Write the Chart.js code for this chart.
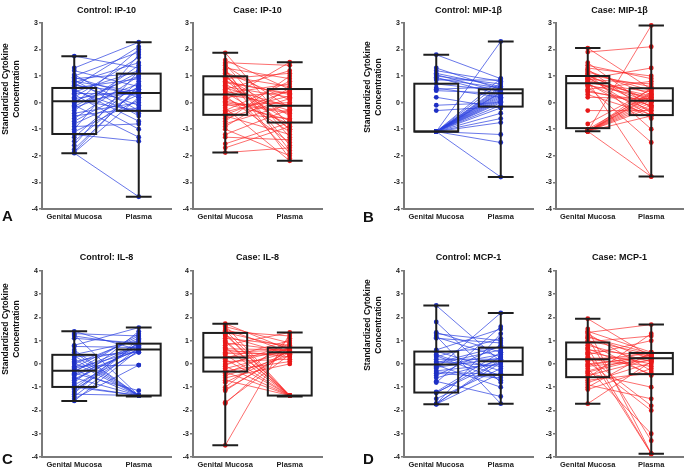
<!DOCTYPE html>
<html>
<head>
<meta charset="utf-8">
<script src="https://cdn.jsdelivr.net/npm/chart.js@4.4.0/dist/chart.umd.min.js"></script>
<style>
  body { margin: 0; background: #fff; }
  #fig { position: relative; width: 687px; height: 467px; overflow: hidden; font-family: "Liberation Sans", Arial, sans-serif; }
  #fig canvas { position: absolute; }
  .ytitle { position: absolute; width: 110px; height: 22px; font-size: 8.5px; font-weight: bold; line-height: 11px;
            text-align: center; transform: rotate(-90deg); color: #111; white-space: nowrap; }
  .letter { position: absolute; font-size: 15px; font-weight: bold; line-height: 15px; color: #111; }
</style>
</head>
<body>
<div id="fig">
  <canvas id="c0" width="175" height="228" style="left:0px;top:0px"></canvas>
  <canvas id="c1" width="151" height="228" style="left:175px;top:0px"></canvas>
  <canvas id="c2" width="175" height="228" style="left:362px;top:0px"></canvas>
  <canvas id="c3" width="150" height="228" style="left:537px;top:0px"></canvas>
  <canvas id="c4" width="175" height="220" style="left:0px;top:247px"></canvas>
  <canvas id="c5" width="151" height="220" style="left:175px;top:247px"></canvas>
  <canvas id="c6" width="175" height="220" style="left:362px;top:247px"></canvas>
  <canvas id="c7" width="150" height="220" style="left:537px;top:247px"></canvas>

  <div class="ytitle" style="left:-44px;top:78px">Standardized Cytokine<br>Concentration</div>
  <div class="ytitle" style="left:318px;top:76px">Standardized Cytokine<br>Concentration</div>
  <div class="ytitle" style="left:-44px;top:318px">Standardized Cytokine<br>Concentration</div>
  <div class="ytitle" style="left:318px;top:314px">Standardized Cytokine<br>Concentration</div>

  <div class="letter" style="left:2px;top:208px">A</div>
  <div class="letter" style="left:363px;top:209px">B</div>
  <div class="letter" style="left:2px;top:451px">C</div>
  <div class="letter" style="left:363px;top:451px">D</div>
</div>

<script>
// ---- data ----
const categories = ['Genital Mucosa', 'Plasma'];
const yTicksTop = [-4, 3];     // top row axis range
const yTicksBottom = [-4, 4];  // bottom row axis range

// box summaries per group: [min, q1, median, q3, max]
const ip10ControlBox = [[-1.90, -1.18, 0.05, 0.55, 1.74], [-3.54, -0.31, 0.36, 1.09, 2.27]];
const ip10CaseBox    = [[-1.88, -0.46, 0.30, 0.99, 1.87], [-2.19, -0.75, -0.12, 0.51, 1.52]];
const mipControlBox  = [[-1.09, -1.09, -1.09, 0.71, 1.80], [-2.80, -0.15, 0.35, 0.50, 2.30]];
const mipCaseBox     = [[-1.08, -0.96, 0.73, 1.00, 2.05], [-2.78, -0.47, 0.07, 0.54, 2.90]];
const il8ControlBox  = [[-1.59, -0.99, -0.29, 0.39, 1.40], [-1.40, -1.36, 0.62, 0.87, 1.56]];
const il8CaseBox     = [[-3.50, -0.33, 0.27, 1.33, 1.73], [-1.40, -1.36, 0.50, 0.70, 1.35]];
const mcpControlBox  = [[-1.73, -1.23, -0.03, 0.53, 2.51], [-1.71, -0.47, 0.11, 0.70, 2.19]];
const mcpCaseBox     = [[-1.71, -0.57, 0.20, 0.92, 1.94], [-3.86, -0.44, 0.24, 0.47, 1.69]];

// paired subjects (genital mucosa value, plasma value)
const ip10ControlGM = [1.75, 1.3, 1.2, 1.05, 1.0, 0.95, 0.9, 0.85, 0.8, 0.75, 0.7, 0.6, 0.55, 0.5, 0.4, 0.35, 0.3, 0.2, 0.15, 0.1,
  0.05, 0.0, -0.05, -0.1, -0.2, -0.3, -0.4, -0.5, -0.6, -0.7, -0.8, -0.9, -1.0, -1.1, -1.2, -1.3, -1.45, -1.6, -1.75, -1.9,
  -1.88, 0.45, -0.15, 0.65, -1.85];
const ip10ControlPlasma = [1.3, 2.27, 0.6, -0.3, 1.9, 0.2, 1.1, -0.5, 0.4, 1.5, -0.1, 2.1, 0.9, -0.7, 1.2, 0.3, -1.0, 1.7, 0.5, -0.3,
  1.0, 0.4, 2.0, -1.3, 0.7, 1.4, 0.0, -0.2, 1.0, 0.6, 0.3, -0.8, 1.8, 0.1, -1.45, 0.8, 0.5, 1.2, 0.6, -3.54,
  0.2, -0.4, 1.15, 0.35, 0.65];

const ip10CaseGM = [1.87, 1.6, 1.5, 1.45, 1.4, 1.3, 1.2, 1.15, 1.1, 1.0, 0.95, 0.9, 0.85, 0.8, 0.7, 0.65, 0.6, 0.5, 0.45, 0.4,
  0.35, 0.3, 0.25, 0.2, 0.15, 0.1, 0.0, -0.1, -0.2, -0.3, -0.4, -0.45, -0.5, -0.6, -0.7, -0.8, -0.9, -1.0, -1.2, -1.3,
  -1.55, -1.7, -1.88, 0.55, 0.75, -0.05, 1.25, -0.35, 0.05, 1.0];
const ip10CasePlasma = [-0.9, 0.5, 1.4, -1.3, -0.2, 0.9, -1.6, 0.1, -2.1, 0.6, -0.5, 1.1, -1.0, 0.3, -0.7, -1.9, 0.2, 1.2, -0.3, -1.1,
  0.7, -0.1, -1.5, 0.4, -0.8, 1.52, -0.4, 0.0, -2.19, 0.8, -0.6, 0.45, -1.2, 0.15, 1.0, -0.05, 0.55, -2.0, -0.25, -1.4,
  -0.75, -0.9, -1.7, -0.15, 0.35, -0.65, -1.8, 0.25, -0.35, -1.0];

const mipControlGM = [1.8, 1.3, 1.2, 1.1, 1.05, 1.0, 0.95, 0.9, 0.85, 0.7, 0.55, 0.5, 0.45, 0.2, -0.1, -0.3,
  -1.09, -1.09, -1.09, -1.09, -1.09, -1.09, -1.09, -1.09, -1.09, -1.09, -1.09, -1.09, -1.09, -1.09, -1.09, -1.09,
  -1.09, -1.09, -1.09, -1.09, -1.09, -1.09, -1.09, -1.09, -1.09];
const mipControlPlasma = [0.9, 0.5, 0.8, 0.6, 0.4, 0.7, 0.3, 0.55, 0.85, 0.45, 0.2, 0.6, 0.35, -0.2, 0.0, -0.15,
  2.3, 0.9, 0.75, 0.6, 0.5, 0.45, 0.4, 0.35, 0.3, 0.25, 0.2, 0.15, 0.1, 0.05, 0.0, -0.1,
  -0.2, -0.4, -0.6, -0.75, -1.2, -1.5, -2.8, 0.55, 0.38];

const mipCaseGM = [2.05, 1.9, 1.5, 1.4, 1.3, 1.25, 1.2, 1.1, 1.05, 1.0, 0.95, 0.9, 0.85, 0.8, 0.75, 0.7, 0.65, 0.6, 0.5, 0.45,
  0.4, 0.3, 0.2, -0.3, -0.8, -1.0, 1.15, 0.92, 0.88, 0.78, 0.72, 1.02,
  -1.08, -1.08, -1.08, -1.08, -1.08, -1.08, -1.08, -1.08, -1.08, -1.08, -1.08, -1.08];
const mipCasePlasma = [0.5, 2.1, -0.2, 0.9, 1.0, -0.4, 0.3, -1.0, 0.6, 0.1, -0.5, 1.3, 0.0, -2.78, 0.4, -0.3, 0.2, -1.5, 0.8, -0.1,
  0.05, -0.45, 0.15, -0.3, 0.5, 0.35, 0.45, -0.15, 0.7, 0.25, -0.6, 0.05,
  2.9, 0.55, 0.4, 0.3, 0.2, 0.1, 0.0, -0.1, -0.2, 0.25, -0.5, -2.78];

const il8ControlGM = [1.40, 1.3, 1.25, 1.2, 1.1, 0.8, 0.75, 0.5, 0.4, 0.3, 0.2, 0.1, 0.0, -0.1, -0.2, -0.25, -0.3, -0.35, -0.4, -0.5,
  -0.6, -0.7, -0.8, -0.9, -1.0, -1.05, -1.1, -1.2, -1.3, -1.4, -1.5, -1.59, 0.35, -0.45, -0.15, 0.05, -0.65, -0.95, -1.25, 0.6];
const il8ControlPlasma = [0.6, 1.2, -1.36, 0.8, 0.9, 1.56, 0.7, -1.36, 1.0, 0.5, -1.36, 0.65, 1.1, -0.05, 0.55, -1.36, 0.85, 1.3, -1.15, 0.6,
  -1.36, 0.75, 1.4, 0.5, -1.36, 0.9, 0.55, 1.05, -1.36, 0.7, -0.05, 0.6, -1.36, 0.8, 1.2, -1.36, 0.65, -1.36, 0.95, -1.36];

const il8CaseGM = [1.73, 1.65, 1.6, 1.5, 1.45, 1.4, 1.35, 1.3, 1.2, 1.1, 1.0, 0.9, 0.8, 0.7, 0.6, 0.5, 0.4, 0.3, 0.25, 0.2,
  0.1, 0.0, -0.1, -0.2, -0.3, -0.35, -0.4, -0.5, -0.6, -0.7, -0.8, -1.0, -1.1, -1.15, -1.65, -1.7, -3.5, 0.95, 0.45, -0.05,
  1.25, 0.65];
const il8CasePlasma = [0.6, -1.36, 0.9, 0.5, -1.36, 1.2, 0.7, -1.36, 0.4, 0.8, -1.36, 0.55, 1.35, -1.36, 0.3, 0.6, -1.36, 0.45, 1.0, -1.36,
  0.2, 0.65, -1.36, 0.5, 0.1, -1.36, 0.7, 0.35, 0.0, -1.36, 0.55, 1.1, 0.5, 0.6, 0.4, 0.75, 1.3, -1.36, 0.45, 0.85,
  -1.36, 0.6];

const mcpControlGM = [2.51, 1.8, 1.35, 1.3, 1.2, 1.15, 1.1, 0.6, 0.55, 0.5, 0.4, 0.3, 0.2, 0.1, 0.0, -0.05, -0.1, -0.2, -0.3, -0.4,
  -0.5, -0.6, -0.75, -0.8, -1.2, -1.23, -1.25, -1.5, -1.7, -1.73, -1.73, -1.73, 0.35, -0.15, 0.05, -0.35];
const mcpControlPlasma = [0.1, -0.8, 0.5, 1.0, -1.71, 0.3, 0.9, 1.5, -0.3, 0.7, -0.5, 1.1, 0.2, -0.1, 0.6, -1.0, 0.4, 2.19, 0.0, -0.6,
  0.8, 0.15, -1.4, 1.6, 0.5, 0.1, 0.3, -0.2, 0.05, 0.2, -0.4, 1.3, -0.7, 0.25, 0.75, -0.45];

const mcpCaseGM = [1.94, 1.5, 1.4, 1.35, 1.3, 1.2, 1.1, 1.0, 0.95, 0.9, 0.8, 0.7, 0.6, 0.5, 0.4, 0.3, 0.25, 0.2, 0.15, 0.1,
  0.0, -0.1, -0.2, -0.3, -0.4, -0.5, -0.6, -0.7, -0.8, -0.9, -1.0, -1.1, -1.71, 0.45, -0.05, 1.15, 0.65, -0.35];
const mcpCasePlasma = [0.3, -3.86, 0.5, 1.69, -0.3, 0.2, -3.3, 0.4, 1.2, -0.5, 0.1, -3.86, 0.35, 0.0, 1.0, -1.8, 0.25, -0.1, 0.45, -2.0,
  0.3, 0.15, -3.0, 0.4, -1.0, 0.2, 1.3, -0.4, 0.05, -1.5, 0.5, -0.2, 0.1, -3.86, 0.35, 0.45, -0.45, 0.3];

// ---- look ----
const BLUE = { line: 'rgba(45,65,225,0.9)', point: '#1d2fc4' };
const RED  = { line: 'rgba(250,40,40,0.85)', point: '#e81818' };

const panels = [
  { canvas: 'c0', title: 'Control: IP-10',  gm: ip10ControlGM, pl: ip10ControlPlasma, box: ip10ControlBox, col: BLUE, range: yTicksTop, yW: 42, padR: 3, titleB: 7, xH: 19 },
  { canvas: 'c1', title: 'Case: IP-10',     gm: ip10CaseGM,    pl: ip10CasePlasma,    box: ip10CaseBox,    col: RED,  range: yTicksTop, yW: 18, padR: 3, titleB: 7, xH: 19 },
  { canvas: 'c2', title: 'Control: MIP-1β', gm: mipControlGM,  pl: mipControlPlasma,  box: mipControlBox,  col: BLUE, range: yTicksTop, yW: 42, padR: 3, titleB: 7, xH: 19 },
  { canvas: 'c3', title: 'Case: MIP-1β',    gm: mipCaseGM,     pl: mipCasePlasma,     box: mipCaseBox,     col: RED,  range: yTicksTop, yW: 19, padR: 1, titleB: 7, xH: 19 },
  { canvas: 'c4', title: 'Control: IL-8',   gm: il8ControlGM,  pl: il8ControlPlasma,  box: il8ControlBox,  col: BLUE, range: yTicksBottom, yW: 42, padR: 3, titleB: 8, xH: 10 },
  { canvas: 'c5', title: 'Case: IL-8',      gm: il8CaseGM,     pl: il8CasePlasma,     box: il8CaseBox,     col: RED,  range: yTicksBottom, yW: 18, padR: 3, titleB: 8, xH: 10 },
  { canvas: 'c6', title: 'Control: MCP-1',  gm: mcpControlGM,  pl: mcpControlPlasma,  box: mcpControlBox,  col: BLUE, range: yTicksBottom, yW: 42, padR: 3, titleB: 8, xH: 10 },
  { canvas: 'c7', title: 'Case: MCP-1',     gm: mcpCaseGM,     pl: mcpCasePlasma,     box: mcpCaseBox,     col: RED,  range: yTicksBottom, yW: 19, padR: 1, titleB: 8, xH: 10 }
];

// box + whiskers, drawn from the chart's own scales
const boxPlugin = {
  id: 'boxes',
  afterDatasetsDraw(chart, args, opts) {
    const { ctx, scales: { x, y } } = chart;
    const half = (x.width / 2) * 0.34;
    const cap = (x.width / 2) * 0.2;
    ctx.save();
    ctx.strokeStyle = '#1e1e1e';
    ctx.lineWidth = 2;
    opts.stats.forEach((s, i) => {
      const cx = x.getPixelForValue(i);
      const [mn, q1, md, q3, mx] = s.map(v => y.getPixelForValue(v));
      ctx.beginPath();
      // whiskers
      ctx.moveTo(cx, q3); ctx.lineTo(cx, mx);
      ctx.moveTo(cx, q1); ctx.lineTo(cx, mn);
      ctx.moveTo(cx - cap, mx); ctx.lineTo(cx + cap, mx);
      ctx.moveTo(cx - cap, mn); ctx.lineTo(cx + cap, mn);
      // median
      ctx.moveTo(cx - half, md); ctx.lineTo(cx + half, md);
      ctx.stroke();
      ctx.strokeRect(cx - half, q3, half * 2, q1 - q3);
    });
    ctx.restore();
  }
};

panels.forEach(p => {
  const datasets = p.gm.map((v, i) => ({
    data: [v, p.pl[i]],
    borderColor: p.col.line,
    borderWidth: 0.8,
    pointRadius: 2.4,
    pointBackgroundColor: p.col.point,
    pointBorderWidth: 0,
    fill: false,
    tension: 0
  }));

  new Chart(document.getElementById(p.canvas), {
    type: 'line',
    data: { labels: categories, datasets },
    plugins: [boxPlugin],
    options: {
      responsive: false,
      animation: false,
      events: [],
      layout: { padding: { left: 0, right: p.padR, top: 0, bottom: 0 } },
      plugins: {
        legend: { display: false },
        tooltip: { enabled: false },
        title: {
          display: true, text: p.title, fullSize: false, color: '#111',
          font: { family: '"Liberation Sans", Arial, sans-serif', size: 9, weight: 'bold' },
          padding: { top: 5, bottom: p.titleB }
        },
        boxes: { stats: p.box }
      },
      scales: {
        x: {
          type: 'category',
          offset: true,
          grid: { display: false, drawTicks: false },
          border: { display: true, color: '#7a7a7a', width: 2 },
          ticks: { color: '#222', padding: 3, maxRotation: 0,
                   font: { family: '"Liberation Sans", Arial, sans-serif', size: 7.5, weight: 'bold' } },
          afterFit: s => { s.height = p.xH; }
        },
        y: {
          min: p.range[0], max: p.range[1],
          grid: { display: true, drawOnChartArea: false, drawTicks: true, tickLength: 3, color: '#7a7a7a', lineWidth: 1.5 },
          border: { display: true, color: '#7a7a7a', width: 2 },
          ticks: { stepSize: 1, color: '#222', padding: 1,
                   font: { family: '"Liberation Sans", Arial, sans-serif', size: 7, weight: 'bold' } },
          afterFit: s => { s.width = p.yW; }
        }
      }
    }
  });
});
</script>
</body>
</html>
